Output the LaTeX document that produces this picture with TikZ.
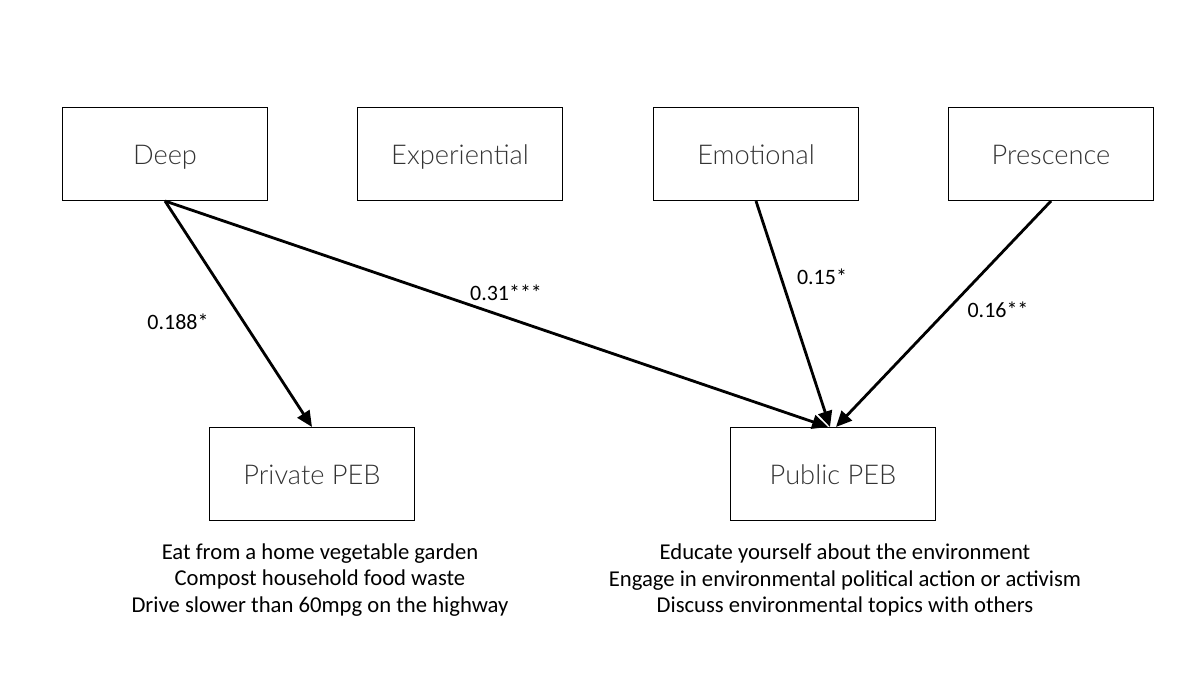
\documentclass[tikz,border=0pt]{standalone}
\usepackage{fontspec}
\setmainfont{Carlito}
\newfontfamily\boxfont{Lato}[UprightFont={* Light}]
\usetikzlibrary{positioning,arrows.meta,calc}

\begin{document}
\begin{tikzpicture}[x=0.02cm, y=-0.02cm, >={Triangle[length=9pt,width=8pt]},
  dim/.style={draw, line width=0.6pt, minimum width=4.1cm, minimum height=1.86cm,
    text height=11.5pt, text depth=0pt,
    font=\boxfont\fontsize{15.5}{19}\selectfont, text=black!80},
  items/.style={align=center, font=\fontsize{12.9}{15.3}\selectfont},
  coef/.style={font=\fontsize{12.5}{15}\selectfont},
  path/.style={->, line width=1.6pt}]
  \useasboundingbox (0,0) rectangle (1200,675);
  \node[dim] (deep) at (165,154) {Deep};
  \node[dim] (exp) at (460,154) {Experiential};
  \node[dim] (emo) at (756,154) {Emotional};
  \node[dim] (pres) at (1051,154) {Prescence};
  \node[dim] (priv) at (312,474) {Private PEB};
  \node[dim] (pub) at (833,474) {Public PEB};
  \node[items] (privitems) at (320,580) {Eat from a home vegetable garden\\Compost household food waste\\Drive slower than 60mpg on the highway};
  \node[items] (pubitems) at (845,580) {Educate yourself about the environment\\Engage in environmental political action or activism\\Discuss environmental topics with others};
  \draw[path] (deep.south) -- (priv.north);
  \draw[path] (deep.south) -- ($(pub.north)+(-5,0)$);
  \draw[path] (emo.south) -- ($(pub.north)+(-3,0)$);
  \draw[path] (pres.south) -- ($(pub.north)+(3,0)$);
  \node[coef] (b1) at (178,322) {0.188*};
  \node[coef] (b2) at (506,293) {0.31***};
  \node[coef] (b3) at (822,277) {0.15*};
  \node[coef] (b4) at (998,310) {0.16**};
\end{tikzpicture}
\end{document}
